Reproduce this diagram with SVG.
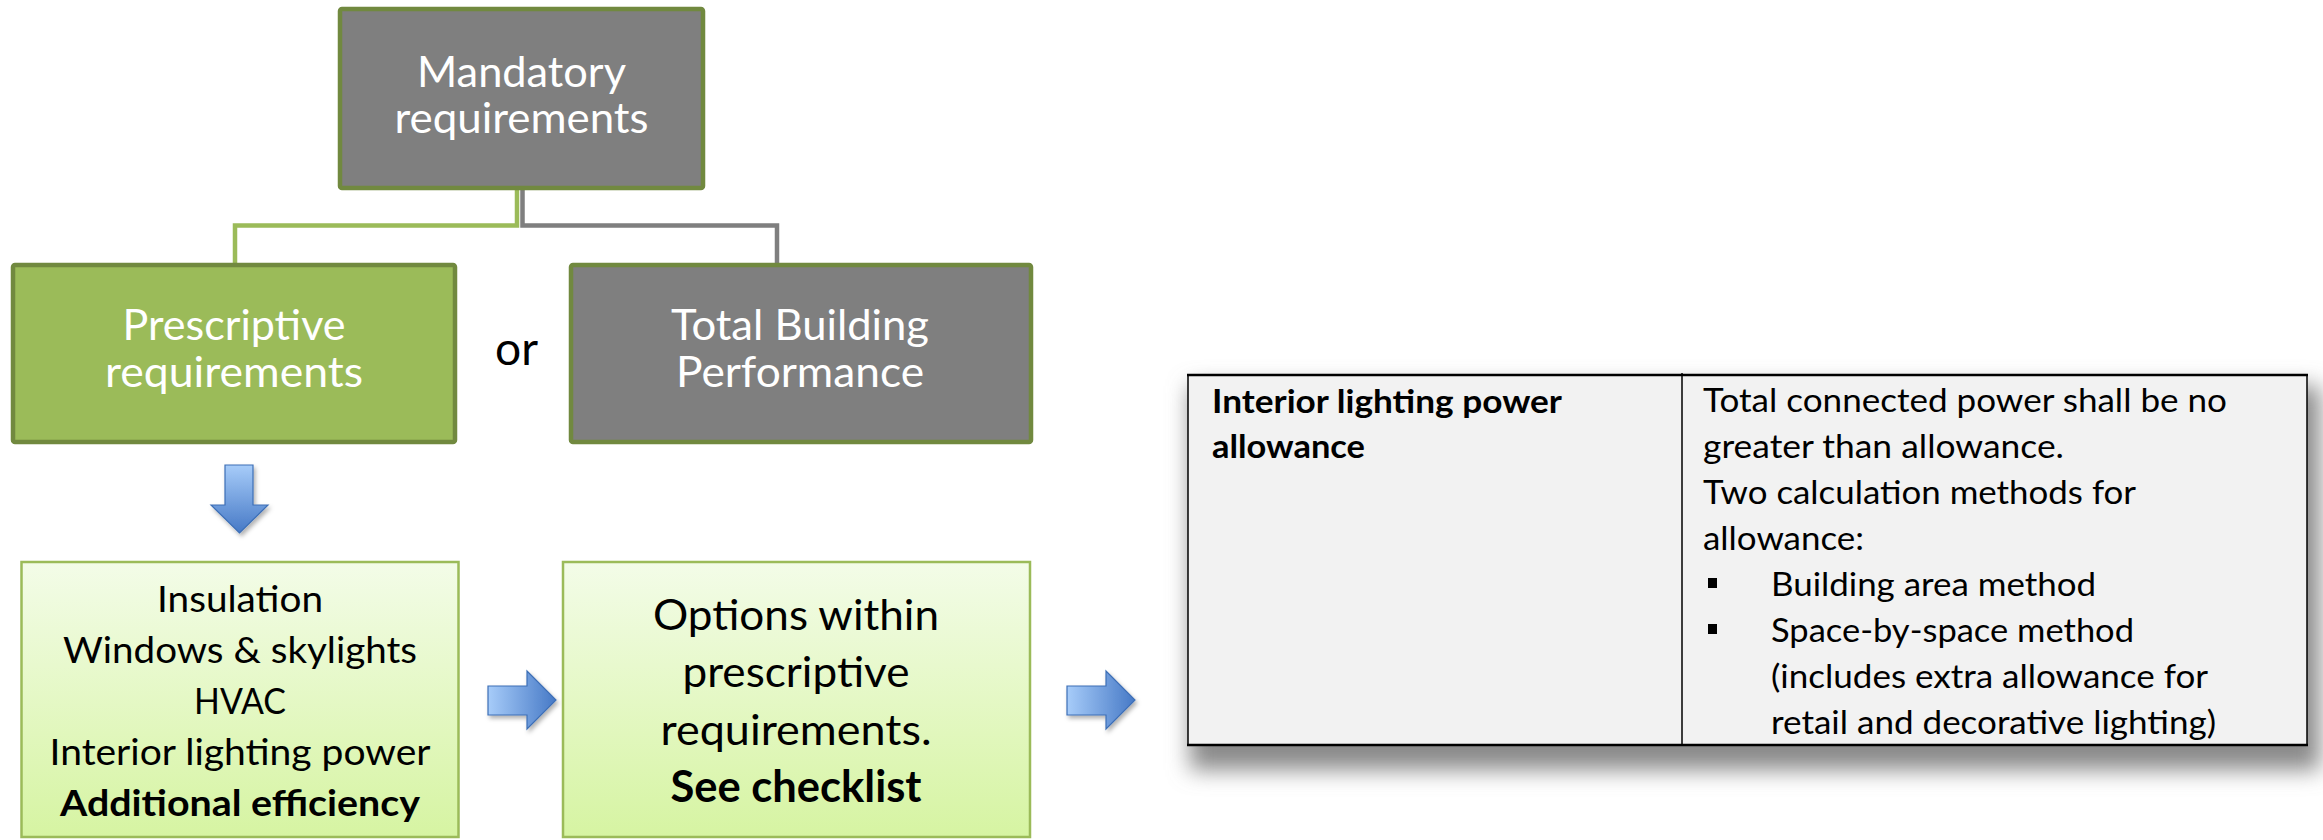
<svg xmlns="http://www.w3.org/2000/svg" width="2323" height="840" viewBox="0 0 2323 840">
  <defs>
    <linearGradient id="lightGreen" x1="0" y1="0" x2="0" y2="1">
      <stop offset="0" stop-color="#F3FCE8"/>
      <stop offset="1" stop-color="#D6F4A2"/>
    </linearGradient>
    <linearGradient id="blueH" x1="0" y1="0" x2="1" y2="0">
      <stop offset="0" stop-color="#A7CCF9"/>
      <stop offset="1" stop-color="#4679C6"/>
    </linearGradient>
    <linearGradient id="blueV" x1="0" y1="0" x2="0" y2="1">
      <stop offset="0" stop-color="#A7CCF9"/>
      <stop offset="1" stop-color="#4679C6"/>
    </linearGradient>
    <filter id="arrowShadow" x="-30%" y="-30%" width="160%" height="160%">
      <feDropShadow dx="2" dy="3" stdDeviation="2" flood-color="#000" flood-opacity="0.3"/>
    </filter>
    <filter id="tableShadow" x="-10%" y="-20%" width="120%" height="140%">
      <feGaussianBlur stdDeviation="11"/>
    </filter>
    <style>
      .dark { fill: #7F7F7F; stroke: #71893F; stroke-width: 4.5; }
      .green { fill: #9BBB59; stroke: #71893F; stroke-width: 4.5; }
      .light { fill: url(#lightGreen); stroke: #9BBB59; stroke-width: 2.5; }
      .arrow { stroke: #3D6FB6; stroke-width: 1.2; filter: url(#arrowShadow); }
      .wt { font-family: Lato, "Open Sans", sans-serif; font-size: 42px; fill: #FFFFFF; text-anchor: middle; }
      .bk { font-family: Lato, "Open Sans", sans-serif; fill: #000000; text-anchor: middle; }
      .tb { font-family: Lato, "Open Sans", sans-serif; font-size: 33px; fill: #000000; }
      .b { font-weight: bold; }
      .link { fill: none; stroke-width: 4.5; }
    </style>
  </defs>

  <!-- tree connectors -->
  <g id="connectors">
    <path class="link" d="M517,190 V225.5 H235 V264" stroke="#9BBB59"/>
    <path class="link" d="M522.5,190 V225.5 H777 V264" stroke="#7F7F7F"/>
    <path class="arrow" fill="url(#blueV)" d="M225,465 H253 V505 H268 L239.5,533 L211,505 H225 Z"/>
    <path class="arrow" fill="url(#blueH)" d="M488,686 H527 V671 L556,700 L527,729 V715 H488 Z"/>
    <path class="arrow" fill="url(#blueH)" d="M1067,686 H1106 V671 L1135,700 L1106,729 V715 H1067 Z"/>
  </g>

  <g id="mandatory">
    <rect class="dark" x="340" y="9" width="363" height="179" rx="2"/>
    <text class="wt" x="521.5" y="87" textLength="209" lengthAdjust="spacingAndGlyphs">Mandatory</text>
    <text class="wt" x="521.5" y="133" textLength="254" lengthAdjust="spacingAndGlyphs">requirements</text>
  </g>

  <g id="prescriptive">
    <rect class="green" x="13" y="265" width="442" height="177" rx="2"/>
    <text class="wt" x="234" y="340" textLength="223" lengthAdjust="spacingAndGlyphs">Prescriptive</text>
    <text class="wt" x="234" y="387" textLength="258" lengthAdjust="spacingAndGlyphs">requirements</text>
  </g>

  <g id="or-label">
    <text class="bk" x="516.5" y="365" font-size="46" textLength="43" lengthAdjust="spacingAndGlyphs">or</text>
  </g>

  <g id="total-building">
    <rect class="dark" x="571" y="265" width="460" height="177" rx="2"/>
    <text class="wt" x="800" y="340" textLength="258" lengthAdjust="spacingAndGlyphs">Total Building</text>
    <text class="wt" x="800" y="387" textLength="248" lengthAdjust="spacingAndGlyphs">Performance</text>
  </g>

  <g id="prescriptive-items">
    <rect class="light" x="21.5" y="562" width="437" height="275"/>
    <g class="bk" font-size="37">
      <text x="240" y="612" textLength="166" lengthAdjust="spacingAndGlyphs">Insulation</text>
      <text x="240" y="663" textLength="354" lengthAdjust="spacingAndGlyphs">Windows &amp; skylights</text>
      <text x="240" y="714" textLength="92" lengthAdjust="spacingAndGlyphs">HVAC</text>
      <text x="240" y="765" textLength="381" lengthAdjust="spacingAndGlyphs">Interior lighting power</text>
      <text class="b" x="240" y="816" textLength="360" lengthAdjust="spacingAndGlyphs">Additional efficiency</text>
    </g>
  </g>

  <g id="options">
    <rect class="light" x="563" y="562" width="467" height="275"/>
    <g class="bk" font-size="43">
      <text x="796" y="630" textLength="286" lengthAdjust="spacingAndGlyphs">Options within</text>
      <text x="796" y="687" textLength="227" lengthAdjust="spacingAndGlyphs">prescriptive</text>
      <text x="796" y="745" textLength="271" lengthAdjust="spacingAndGlyphs">requirements.</text>
      <text class="b" x="796" y="802" textLength="251" lengthAdjust="spacingAndGlyphs">See checklist</text>
    </g>
  </g>

  <g id="lighting-table">
    <rect x="1190" y="386" width="1130" height="384" fill="#8A8A8A" filter="url(#tableShadow)"/>
    <rect x="1188" y="375" width="1119" height="370" fill="#F2F2F2"/>
    <line x1="1188" y1="375" x2="1188" y2="745" stroke="#000" stroke-width="1.5"/>
    <line x1="2307" y1="375" x2="2307" y2="745" stroke="#000" stroke-width="1.5"/>
    <line x1="1682" y1="373" x2="1682" y2="745" stroke="#000" stroke-width="1.5"/>
    <line x1="1187" y1="375" x2="2308" y2="375" stroke="#000" stroke-width="2.5"/>
    <line x1="1187" y1="745" x2="2308" y2="745" stroke="#000" stroke-width="2.5"/>
    <g class="tb b">
      <text x="1212" y="413" textLength="350" lengthAdjust="spacingAndGlyphs">Interior lighting power</text>
      <text x="1212" y="458" textLength="153" lengthAdjust="spacingAndGlyphs">allowance</text>
    </g>
    <g class="tb">
      <text x="1703" y="412" textLength="524" lengthAdjust="spacingAndGlyphs">Total connected power shall be no</text>
      <text x="1703" y="458" textLength="361" lengthAdjust="spacingAndGlyphs">greater than allowance.</text>
      <text x="1703" y="504" textLength="433" lengthAdjust="spacingAndGlyphs">Two calculation methods for</text>
      <text x="1703" y="550" textLength="161" lengthAdjust="spacingAndGlyphs">allowance:</text>
      <text x="1771" y="596" textLength="325" lengthAdjust="spacingAndGlyphs">Building area method</text>
      <text x="1771" y="642" textLength="363" lengthAdjust="spacingAndGlyphs">Space-by-space method</text>
      <text x="1771" y="688" textLength="437" lengthAdjust="spacingAndGlyphs">(includes extra allowance for</text>
      <text x="1771" y="734" textLength="445" lengthAdjust="spacingAndGlyphs">retail and decorative lighting)</text>
    </g>
    <rect x="1708" y="578" width="9" height="10" fill="#000"/>
    <rect x="1708" y="624" width="9" height="10" fill="#000"/>
  </g>
</svg>
